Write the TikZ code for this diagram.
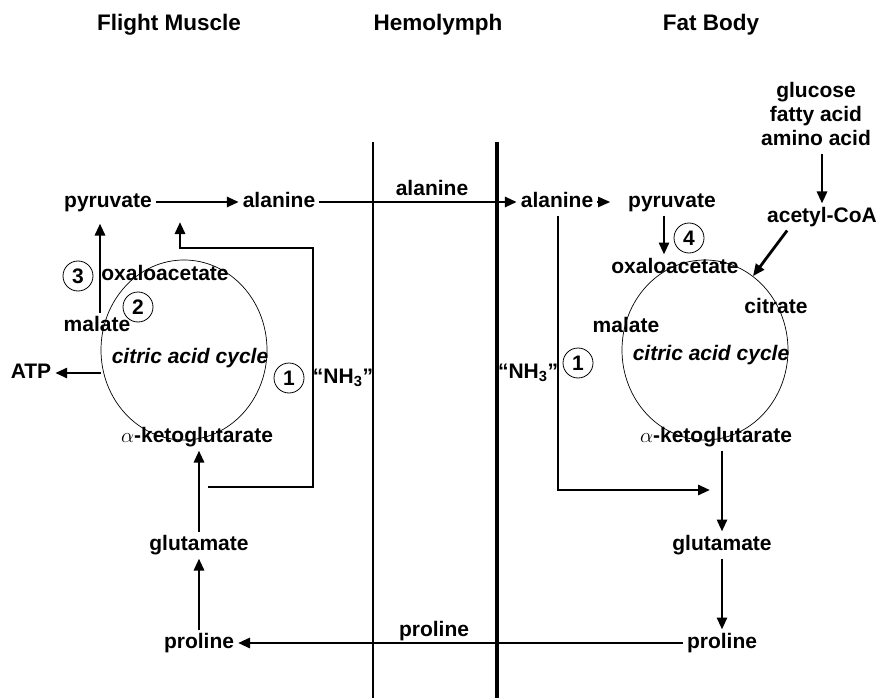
\documentclass[tikz,border=0pt]{standalone}
\usepackage{fontspec}
\setmainfont{Liberation Sans}
\usetikzlibrary{arrows.meta, positioning, shapes.geometric}
\newcommand\mfont{\fontsize{21}{24}\selectfont\bfseries}
\begin{document}
\begin{tikzpicture}[
    x=1pt, y=-1pt,
    heading/.style={font=\fontsize{22.5}{26}\selectfont\bfseries, anchor=base},
    metab/.style={font=\mfont, inner sep=0pt, outer sep=4pt, text height=15pt, text depth=4pt},
    enzyme/.style={draw, circle, line width=0.8pt, minimum size=30pt, inner sep=0pt, font=\mfont},
    cycle/.style={draw, ellipse, line width=0.7pt, minimum width=166pt, minimum height=180pt},
    flow/.style={-{Triangle[length=12pt, width=10pt]}, line width=2.8pt}
]
\useasboundingbox (0,0) rectangle (876,698);

% compartments
\node[heading] (hFM) at (169,31) {Flight Muscle};
\node[heading] (hHL) at (438,31) {Hemolymph};
\node[heading] (hFB) at (711,31) {Fat Body};
\draw[line width=2pt] (373,142) -- (373,698);
\draw[line width=3.5pt] (497,142) -- (497,698);

% flight muscle
\node[cycle] (cycFM) at (184,350) {};
\node[metab] (pyrFM) at (108,202) {pyruvate};
\node[metab] (alaFM) at (279,202) {alanine};
\node[metab] (oaaFM) at (165,275) {oxaloacetate};
\node[metab] (malFM) at (97,326) {malate};
\node[metab, font=\mfont\itshape] (cacFM) at (190,358) {citric acid cycle};
\node[metab] (atp) at (31,373) {ATP};
\node[metab] (akgFM) at (197,437) {$\alpha$-ketoglutarate};
\node[metab] (gluFM) at (199,545) {glutamate};
\node[metab] (proFM) at (199,643) {proline};
\node[metab] (nhFM) at (343,378) {“NH\textsubscript{3}”};
\node[enzyme] (e1FM) at (289,378) {1};
\node[enzyme] (e2) at (138,307) {2};
\node[enzyme] (e3) at (78,276) {3};

% hemolymph
\node[metab] (alaHL) at (432,190) {alanine};
\node[metab] (proHL) at (434,631) {proline};

% fat body
\node[cycle] (cycFB) at (705,350) {};
\node[metab] (alaFB) at (557,202) {alanine};
\node[metab] (pyrFB) at (672,202) {pyruvate};
\node[metab] (oaaFB) at (675,268) {oxaloacetate};
\node[metab] (citFB) at (776,308) {citrate};
\node[metab] (malFB) at (626,327) {malate};
\node[metab, font=\mfont\itshape] (cacFB) at (711,355) {citric acid cycle};
\node[metab] (akgFB) at (716,437) {$\alpha$-ketoglutarate};
\node[metab] (gluFB) at (722,545) {glutamate};
\node[metab] (proFB) at (722,643) {proline};
\node[metab] (acoa) at (822,217) {acetyl-CoA};
\node[font=\mfont, align=center, inner sep=0pt] (fuel) at (816,114) {glucose\\fatty acid\\amino acid};
\node[metab] (nhFB) at (528,373) {“NH\textsubscript{3}”};
\node[enzyme] (e1FB) at (578,363) {1};
\node[enzyme] (e4) at (689,238) {4};

\coordinate (nhfmS) at (208,487);
\coordinate (nhfmT) at (180,222);
\coordinate (nhfbT) at (710,490);

% flows
\draw[flow] (pyrFM) -- (alaFM);
\draw[flow] (alaFM) -- (alaFB);
\draw[flow, shorten >=14pt, line width=2pt] (alaFB) -- (pyrFB);
\draw[flow, shorten >=8pt] ([xshift=3pt]malFM.north) -- ([xshift=3pt]malFM.north |- pyrFM.south);
\draw[flow] (cycFM.west |- atp.east) -- (atp.east);
\draw[flow] ([xshift=-8pt]pyrFB.south) -- ([xshift=-8pt]pyrFB.south |- oaaFB.north);
\draw[flow, shorten <=8pt] (fuel.south -| acoa.north) -- (acoa.north);
\draw[flow] ([xshift=24pt]acoa.south west) -- (cycFB.57);
\draw[flow] (proFB) -- (proFM);
\draw[flow] (proFM) -- (gluFM);
\draw[flow] (gluFM) -- (gluFM |- akgFM.south);
\draw[flow] (akgFB.south -| gluFB) -- (gluFB);
\draw[flow] (gluFB) -- (proFB);
\draw[flow] (nhfmS) -| (313,248) -| (nhfmT);
\draw[flow] ([xshift=1pt]alaFB.south) |- (nhfbT);

\end{tikzpicture}
\end{document}
